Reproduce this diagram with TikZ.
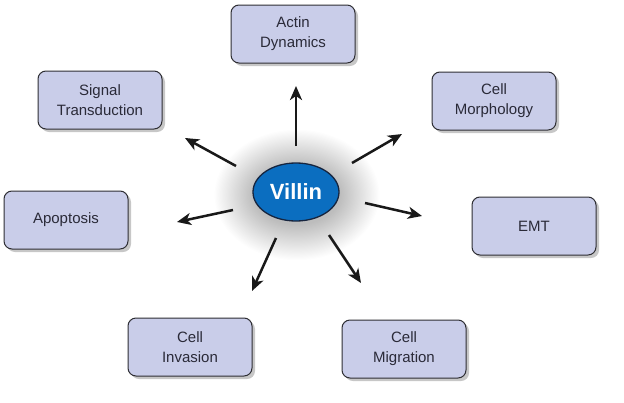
\documentclass[tikz,border=0pt]{standalone}
\usepackage{fontspec}
\setmainfont{Liberation Sans}
\usetikzlibrary{shapes.geometric,arrows.meta,shadows}
\definecolor{boxfill}{HTML}{C9CDE9}
\definecolor{boxdraw}{HTML}{2E2E33}
\definecolor{boxtext}{HTML}{2A2A38}
\definecolor{villinblue}{HTML}{0B6EC0}
\definecolor{villindraw}{HTML}{16253F}
\tikzset{
  x=1pt,y=-1pt,
  topic/.style={draw=boxdraw, line width=1pt, fill=boxfill, rounded corners=8pt,
    minimum width=124pt, minimum height=58pt, align=center, text=boxtext,
    font=\fontsize{15}{20}\selectfont,
    drop shadow={shadow xshift=3pt, shadow yshift=-3pt, opacity=0.22, fill=black}},
  hub/.style={ellipse, draw=villindraw, line width=1.3pt, fill=villinblue,
    minimum width=86pt, minimum height=58pt, inner sep=0pt, text=white,
    font=\fontsize{22}{24}\selectfont\bfseries},
  arr/.style={line width=2.5pt, draw=black!90, -{Stealth[length=14pt,width=12pt,inset=4pt]}},
  glow/.style={fill=black, opacity=0.008}
}
\begin{document}
\begin{tikzpicture}
\useasboundingbox (0,0) rectangle (624,402);
\fill[white] (0,0) rectangle (624,402);
\foreach \i in {0,...,32} {
  \fill[glow] (297,195) ellipse ({44+1.2*\i} and {30+1.1*\i});
}
\node[hub] (v) at (296,192) {Villin};
\node[topic] (actin) at (293,34) {Actin\\Dynamics};
\node[topic] (sig) at (100,100) {Signal\\Transduction};
\node[topic] (morph) at (494,101) {Cell\\Morphology};
\node[topic] (apo) at (66,220) {Apoptosis};
\node[topic] (emt) at (534,226) {EMT};
\node[topic] (inv) at (190,347) {Cell\\Invasion};
\node[topic] (mig) at (404,349) {Cell\\Migration};
\coordinate (s1) at (296,146); \coordinate (e1) at (296,86);
\coordinate (s2) at (236,166); \coordinate (e2) at (185,138);
\coordinate (s3) at (352,163); \coordinate (e3) at (402,134);
\coordinate (s4) at (233,210); \coordinate (e4) at (177,222);
\coordinate (s5) at (365,203); \coordinate (e5) at (422,216);
\coordinate (s6) at (276,238); \coordinate (e6) at (252,291);
\coordinate (s7) at (329,235); \coordinate (e7) at (361,283);
\draw[arr] (s1) -- (e1);
\draw[arr] (s2) -- (e2);
\draw[arr] (s3) -- (e3);
\draw[arr] (s4) -- (e4);
\draw[arr] (s5) -- (e5);
\draw[arr] (s6) -- (e6);
\draw[arr] (s7) -- (e7);
\end{tikzpicture}
\end{document}
